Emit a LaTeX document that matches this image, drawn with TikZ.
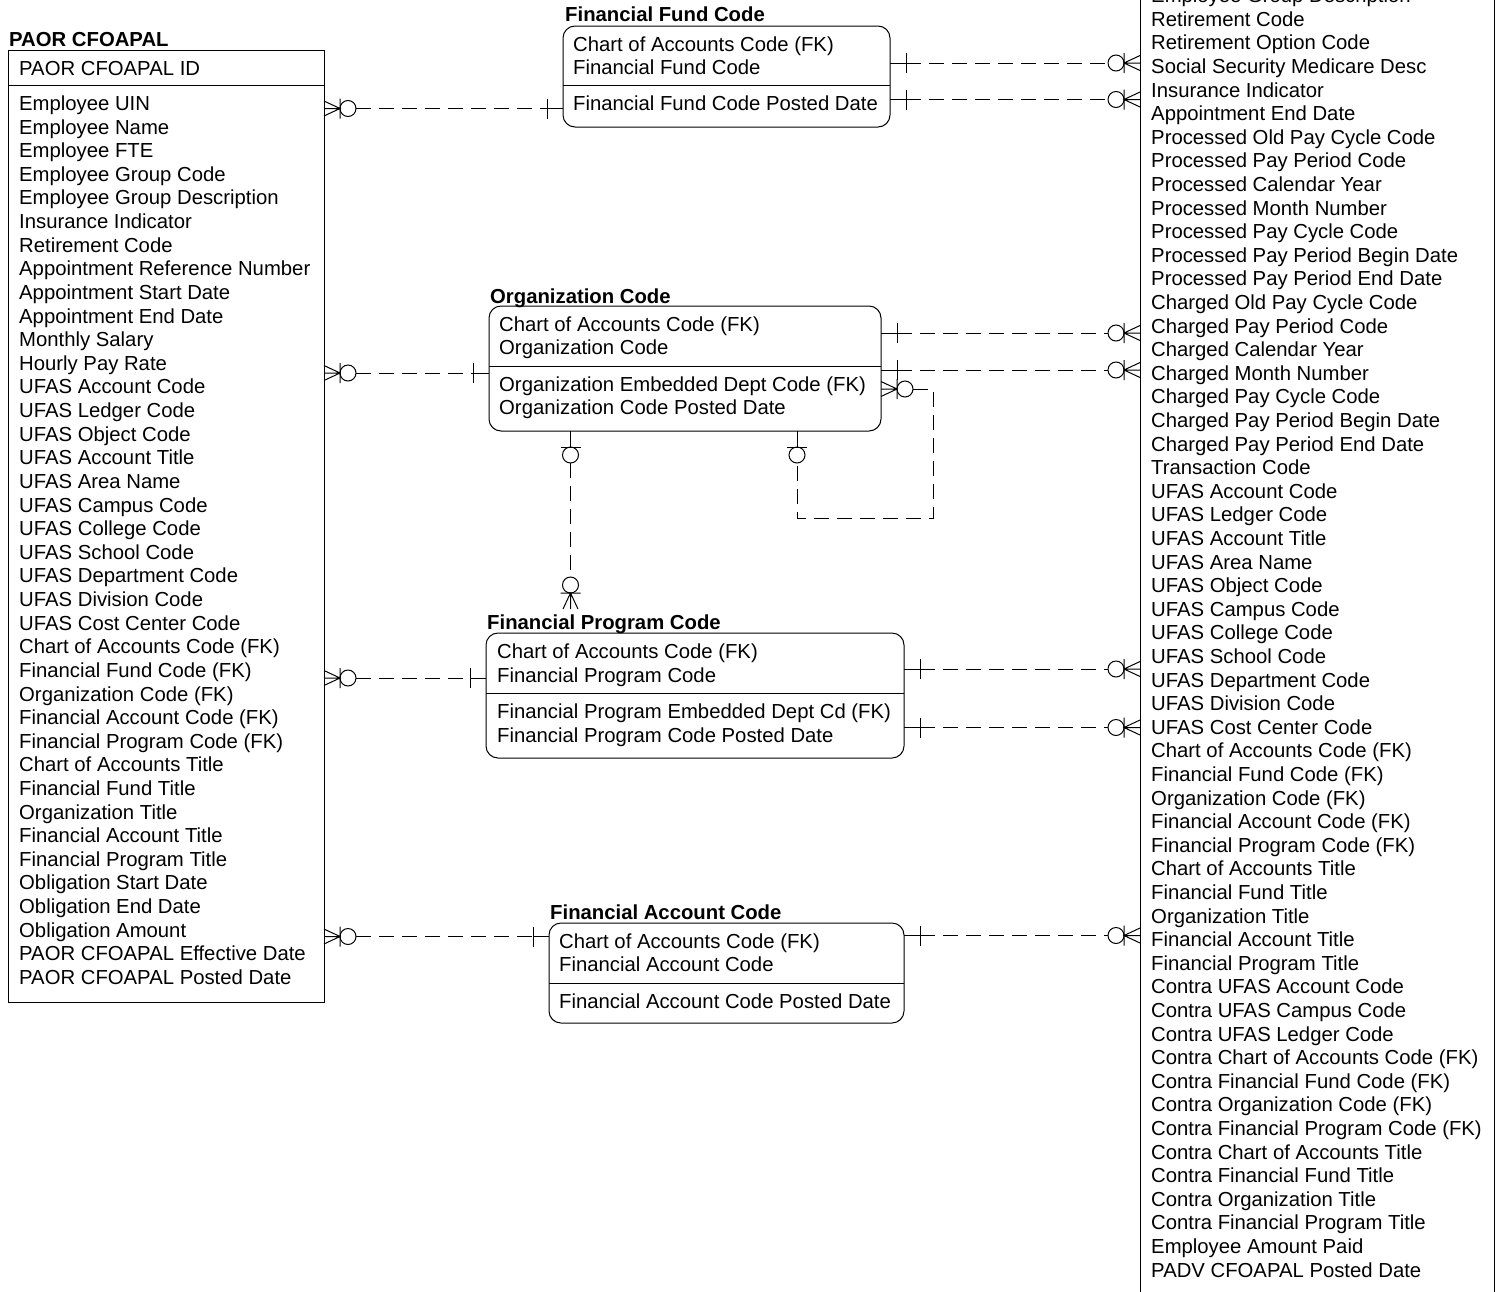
\documentclass[tikz,border=0pt]{standalone}
\usepackage{fontspec}
\setmainfont{Liberation Sans}
\newcommand{\erZeroMany}[2]{\begin{scope}[shift={(#1)},rotate=#2]
 \draw[erline] (0,0) -- (16,0) (0,-7.5) -- (16,0) -- (0,7.5) (16,-10) -- (16,10);
 \draw[erline] (24,0) circle[radius=8];
\end{scope}}
\newcommand{\erOne}[2]{\begin{scope}[shift={(#1)},rotate=#2]
 \draw[erline] (0,0) -- (16,0) (16,-10) -- (16,10);
\end{scope}}
\newcommand{\erZeroOne}[2]{\begin{scope}[shift={(#1)},rotate=#2]
 \draw[erline] (0,0) -- (16,0) (16,-10) -- (16,10);
 \draw[erline] (24,0) circle[radius=8];
\end{scope}}
\begin{document}
\begin{tikzpicture}[x=1pt,y=-1pt,
  erline/.style={line width=1pt, black},
  rel/.style={line width=1pt, black, dash pattern=on 15pt off 8pt},
  ebox/.style={draw, line width=1pt, anchor=north west, inner sep=0pt, outer sep=0pt},
  attr/.style={anchor=base west, inner sep=0pt, font=\fontsize{20.3pt}{23.6pt}\selectfont},
  etitle/.style={anchor=base west, inner sep=0pt, font=\fontsize{20.3pt}{23.6pt}\selectfont\bfseries}]
\useasboundingbox (0,0) rectangle (1502,1291);
\clip (0,0) rectangle (1502,1291);

% ---------- PAOR CFOAPAL ----------
\node[etitle] (paorT) at (9,46) {PAOR CFOAPAL};
\node[ebox, minimum width=316pt, minimum height=952pt] (paor) at (8,50) {};
\draw[erline] (8,85.5) -- (324,85.5);
\node[attr] (paorK) at (19,75.5) {PAOR CFOAPAL ID};
\foreach \t [count=\i from 0] in {Employee UIN, Employee Name, Employee FTE, Employee Group Code, Employee Group Description, Insurance Indicator, Retirement Code, Appointment Reference Number, Appointment Start Date, Appointment End Date, Monthly Salary, Hourly Pay Rate, UFAS Account Code, UFAS Ledger Code, UFAS Object Code, UFAS Account Title, UFAS Area Name, UFAS Campus Code, UFAS College Code, UFAS School Code, UFAS Department Code, UFAS Division Code, UFAS Cost Center Code, Chart of Accounts Code (FK), Financial Fund Code (FK), Organization Code (FK), Financial Account Code (FK), Financial Program Code (FK), Chart of Accounts Title, Financial Fund Title, Organization Title, Financial Account Title, Financial Program Title, Obligation Start Date, Obligation End Date, Obligation Amount, PAOR CFOAPAL Effective Date, PAOR CFOAPAL Posted Date}
  \node[attr] (la\i) at (19,110.5+\i*23.62) {\t};

% ---------- Financial Fund Code ----------
\node[etitle] (ffcT) at (565,21) {Financial Fund Code};
\node[ebox, rounded corners=12pt, minimum width=327pt, minimum height=101pt] (ffc) at (563,26) {};
\draw[erline] (563,85.5) -- (890,85.5);
\node[attr] (ffc1) at (573,51.5) {Chart of Accounts Code (FK)};
\node[attr] (ffc2) at (573,74.5) {Financial Fund Code};
\node[attr] (ffc3) at (573,110.5) {Financial Fund Code Posted Date};

% ---------- Organization Code ----------
\node[etitle] (orgT) at (490,303.5) {Organization Code};
\node[ebox, rounded corners=12pt, minimum width=392pt, minimum height=125pt] (org) at (489,306) {};
\draw[erline] (489,366) -- (881,366);
\node[attr] (org1) at (499,331.5) {Chart of Accounts Code (FK)};
\node[attr] (org2) at (499,354.5) {Organization Code};
\node[attr] (org3) at (499,391.5) {Organization Embedded Dept Code (FK)};
\node[attr] (org4) at (499,414.5) {Organization Code Posted Date};

% ---------- Financial Program Code ----------
\node[etitle] (fpcT) at (487,629.5) {Financial Program Code};
\node[ebox, rounded corners=12pt, minimum width=418pt, minimum height=125pt] (fpc) at (486,633) {};
\draw[erline] (486,693) -- (904,693);
\node[attr] (fpc1) at (497,658.5) {Chart of Accounts Code (FK)};
\node[attr] (fpc2) at (497,682) {Financial Program Code};
\node[attr] (fpc3) at (497,718.5) {Financial Program Embedded Dept Cd (FK)};
\node[attr] (fpc4) at (497,742) {Financial Program Code Posted Date};

% ---------- Financial Account Code ----------
\node[etitle] (facT) at (550,919.5) {Financial Account Code};
\node[ebox, rounded corners=12pt, minimum width=355pt, minimum height=100pt] (fac) at (549,923) {};
\draw[erline] (549,983) -- (904,983);
\node[attr] (fac1) at (559,948.5) {Chart of Accounts Code (FK)};
\node[attr] (fac2) at (559,971.5) {Financial Account Code};
\node[attr] (fac3) at (559,1008.5) {Financial Account Code Posted Date};

% ---------- PADV CFOAPAL (cut off) ----------
\node[ebox, minimum width=354pt, minimum height=1400pt] (padv) at (1140,-50) {};
\foreach \t [count=\i from 0] in {Employee Group Description, Retirement Code, Retirement Option Code, Social Security Medicare Desc, Insurance Indicator, Appointment End Date, Processed Old Pay Cycle Code, Processed Pay Period Code, Processed Calendar Year, Processed Month Number, Processed Pay Cycle Code, Processed Pay Period Begin Date, Processed Pay Period End Date, Charged Old Pay Cycle Code, Charged Pay Period Code, Charged Calendar Year, Charged Month Number, Charged Pay Cycle Code, Charged Pay Period Begin Date, Charged Pay Period End Date, Transaction Code, UFAS Account Code, UFAS Ledger Code, UFAS Account Title, UFAS Area Name, UFAS Object Code, UFAS Campus Code, UFAS College Code, UFAS School Code, UFAS Department Code, UFAS Division Code, UFAS Cost Center Code, Chart of Accounts Code (FK), Financial Fund Code (FK), Organization Code (FK), Financial Account Code (FK), Financial Program Code (FK), Chart of Accounts Title, Financial Fund Title, Organization Title, Financial Account Title, Financial Program Title, Contra UFAS Account Code, Contra UFAS Campus Code, Contra UFAS Ledger Code, Contra Chart of Accounts Code (FK), Contra Financial Fund Code (FK), Contra Organization Code (FK), Contra Financial Program Code (FK), Contra Chart of Accounts Title, Contra Financial Fund Title, Contra Organization Title, Contra Financial Program Title, Employee Amount Paid, PADV CFOAPAL Posted Date}
  \node[attr] (ra\i) at (1151,2.7+\i*23.6) {\t};

% ---------- connector end points ----------
\coordinate (pL1) at (324,108.5);  \coordinate (fL1) at (563,108.5);
\coordinate (fR1) at (890,63);     \coordinate (rF1) at (1140,63);
\coordinate (fR2) at (890,99.5);   \coordinate (rF2) at (1140,99.5);
\coordinate (pL2) at (324,373);    \coordinate (oL1) at (489,373);
\coordinate (oR1) at (881,333);    \coordinate (rO1) at (1140,333);
\coordinate (oR2) at (881,370);    \coordinate (rO2) at (1140,370);
\coordinate (oB1) at (570.5,431);  \coordinate (pT1) at (570.5,609);
\coordinate (oR3) at (881,389);    \coordinate (oB2) at (797,431);
\coordinate (sC1) at (933,518);
\coordinate (pL3) at (324,678);    \coordinate (gL1) at (486,678);
\coordinate (gR1) at (904,669);    \coordinate (rG1) at (1140,669);
\coordinate (gR2) at (904,727.5);  \coordinate (rG2) at (1140,727.5);
\coordinate (pL4) at (324,936.5);  \coordinate (aL1) at (549,936.5);
\coordinate (aR1) at (904,935.5);  \coordinate (rA1) at (1140,935.5);

% PAOR -- Financial Fund Code
\erZeroMany{pL1}{0} \erOne{fL1}{180}
\draw[rel, shorten <=32pt, shorten >=16pt] (pL1) -- (fL1);
% Financial Fund Code -- PADV
\erOne{fR1}{0} \erZeroMany{rF1}{180}
\draw[rel, shorten <=16pt, shorten >=32pt] (fR1) -- (rF1);
\erOne{fR2}{0} \erZeroMany{rF2}{180}
\draw[rel, shorten <=16pt, shorten >=32pt] (fR2) -- (rF2);
% PAOR -- Organization Code
\erZeroMany{pL2}{0} \erOne{oL1}{180}
\draw[rel, shorten <=32pt, shorten >=16pt] (pL2) -- (oL1);
% Organization Code -- PADV
\erOne{oR1}{0} \erZeroMany{rO1}{180}
\draw[rel, shorten <=16pt, shorten >=32pt] (oR1) -- (rO1);
\erOne{oR2}{0} \erZeroMany{rO2}{180}
\draw[rel, shorten <=16pt, shorten >=32pt] (oR2) -- (rO2);
% Organization Code -- Financial Program Code
\erZeroOne{oB1}{-90} \erZeroMany{pT1}{90}
\draw[rel, shorten <=32pt, shorten >=32pt] (oB1) -- (pT1);
% Organization Code self relationship
\erZeroMany{oR3}{0} \erZeroOne{oB2}{-90}
\draw[rel] ([xshift=32pt]oR3) -| (sC1) -| ([yshift=-32pt]oB2);
% PAOR -- Financial Program Code
\erZeroMany{pL3}{0} \erOne{gL1}{180}
\draw[rel, shorten <=32pt, shorten >=16pt] (pL3) -- (gL1);
% Financial Program Code -- PADV
\erOne{gR1}{0} \erZeroMany{rG1}{180}
\draw[rel, shorten <=16pt, shorten >=32pt] (gR1) -- (rG1);
\erOne{gR2}{0} \erZeroMany{rG2}{180}
\draw[rel, shorten <=16pt, shorten >=32pt] (gR2) -- (rG2);
% PAOR -- Financial Account Code
\erZeroMany{pL4}{0} \erOne{aL1}{180}
\draw[rel, shorten <=32pt, shorten >=16pt] (pL4) -- (aL1);
% Financial Account Code -- PADV
\erOne{aR1}{0} \erZeroMany{rA1}{180}
\draw[rel, shorten <=16pt, shorten >=32pt] (aR1) -- (rA1);
\end{tikzpicture}
\end{document}
